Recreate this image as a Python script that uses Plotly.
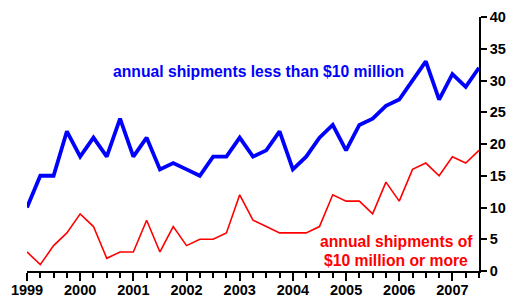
import plotly.graph_objects as go

quarters = [1999 + 0.25 * i for i in range(35)]
small = [10, 15, 15, 22, 18, 21, 18, 24, 18, 21, 16, 17, 16, 15, 18, 18, 21, 18, 19, 22,
         16, 18, 21, 23, 19, 23, 24, 26, 27, 30, 33, 27, 31, 29, 32]
large = [3, 1, 4, 6, 9, 7, 2, 3, 3, 8, 3, 7, 4, 5, 5, 6, 12, 8, 7, 6,
         6, 6, 7, 12, 11, 11, 9, 14, 11, 16, 17, 15, 18, 17, 19]
year_ticks = [1999, 2000, 2001, 2002, 2003, 2004, 2005, 2006, 2007]
y_ticks = [0, 5, 10, 15, 20, 25, 30, 35, 40]

FONT = "Liberation Sans, Arial, sans-serif"

fig = go.Figure()
fig.add_trace(go.Scatter(x=quarters, y=large, mode="lines",
                         line=dict(color="#FF0000", width=1.6), hoverinfo="skip"))
fig.add_trace(go.Scatter(x=quarters, y=small, mode="lines",
                         line=dict(color="#0000FF", width=3.8), hoverinfo="skip"))

fig.add_annotation(x=2003.36, y=31.37, xref="x", yref="y",
                   text="<b>annual shipments less than $10 million</b>",
                   showarrow=False, font=dict(family=FONT, size=15.7, color="#0000FF"))
fig.add_annotation(x=2005.94, y=4.58, xref="x", yref="y",
                   text="<b>annual shipments of</b>",
                   showarrow=False, font=dict(family=FONT, size=15.7, color="#FF0000"))
fig.add_annotation(x=2005.94, y=1.69, xref="x", yref="y",
                   text="<b>$10 million or more</b>",
                   showarrow=False, font=dict(family=FONT, size=15.7, color="#FF0000"))

# page body has an 8px default margin; figure sized/offset to compensate
fig.update_layout(
    width=519, height=289,
    margin=dict(l=19, r=48, t=9, b=26, autoexpand=False),
    paper_bgcolor="white", plot_bgcolor="white",
    showlegend=False,
    font=dict(family=FONT, size=14, color="black"),
    xaxis=dict(range=[1999, 2007.5], tickvals=year_ticks,
               ticktext=[f"<b>{y}</b>" for y in year_ticks],
               ticks="outside", ticklen=8, tickwidth=1.5, tickcolor="black",
               ticklabelstandoff=-3,
               showline=True, linecolor="black", linewidth=1.5,
               showgrid=False, zeroline=False, automargin=False,
               minor=dict(dtick=0.25, tick0=1999, ticks="outside", ticklen=5,
                          tickwidth=1.5, tickcolor="black", showgrid=False),
               tickfont=dict(family=FONT, size=14.5, color="black")),
    yaxis=dict(range=[0, 40], side="right", tickvals=y_ticks,
               ticktext=[f"<b>{v}</b>" for v in y_ticks],
               ticks="outside", ticklen=6, tickwidth=1.5, tickcolor="black",
               showline=True, linecolor="black", linewidth=1.5,
               showgrid=False, zeroline=False, automargin=False,
               tickfont=dict(family=FONT, size=14.5, color="black")),
)

fig.write_html("out.html")
